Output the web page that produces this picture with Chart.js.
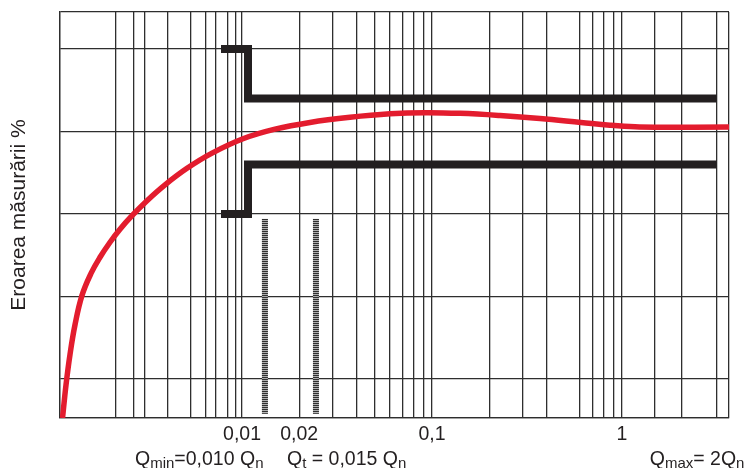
<!DOCTYPE html>
<html>
<head>
<meta charset="utf-8">
<script src="https://cdn.jsdelivr.net/npm/chart.js@4"></script>
<style>
  html, body { margin: 0; padding: 0; background: #ffffff; }
  #c { display: block; }
</style>
</head>
<body>
<canvas id="c" width="751" height="468"></canvas>
<script>
// ---- data ----
// x grid lines (flow, log scale) and y grid lines (error %)
const xGrid = [0.001095, 0.00216, 0.00269, 0.00309, 0.00404, 0.00535, 0.00641, 0.0073, 0.00841, 0.00922,
               0.01, 0.02, 0.03, 0.04, 0.05, 0.06, 0.07, 0.08, 0.09, 0.1,
               0.2, 0.3, 0.4, 0.6, 0.7, 0.8, 0.9, 1, 1.49, 2.07, 3.16, 3.657];
const yGrid = [-17.36, -15, -10, -5, 0, 5, 7.24];
const xLabelValues = [0.01, 0.02, 0.1, 1];
const xLabelTexts = ['0,01', '0,02', '0,1', '1'];

// measured error curve
const curveX = [0.001136, 0.001185, 0.001244, 0.001321, 0.001438, 0.001604, 0.001789, 0.00202, 0.002279,
                0.002637, 0.003162, 0.003933, 0.005135, 0.006952, 0.01012, 0.01492, 0.02279, 0.03701,
                0.06011, 0.09187, 0.1404, 0.2279, 0.3701, 0.6084, 0.8647, 1.171, 1.585, 3.657];
const curveY = [-17.36, -15.35, -13.50, -11.72, -9.93, -8.60, -7.62, -6.71, -5.92,
                -5.10, -4.19, -3.23, -2.23, -1.31, -0.44, 0.14, 0.55, 0.86,
                1.07, 1.14, 1.10, 0.97, 0.79, 0.55, 0.38, 0.28, 0.26, 0.27];

// maximum permissible error envelope
const envX = [0.00775, 0.01075, 0.01075, 3.15];
const envUpper = [5, 5, 2, 2];
const envLower = [-5, -5, -2, -2];

// hatched markers (Qmin, Qt)
const markerQmin = 0.0132;
const markerQt = 0.0245;
const markerY = [-5.3, -17.1];

// bottom annotations: segments [text, isSubscript], anchored at an x value
const qLabels = [
  [['Q', false], ['min', true], ['=0,010 Q', false], ['n', true]],
  [['Q', false], ['t', true], [' = 0,015 Q', false], ['n', true]],
  [['Q', false], ['max', true], ['= 2Q', false], ['n', true]]
];
const qAnchors = [0.002735, 0.01725, 1.40];

const yTitle = 'Eroarea măsurării %';

// ---- build ----
const FONT = '"Liberation Sans", Arial, Helvetica, sans-serif';
const INK = '#231f20';
const GRID = '#2e2e2e';

const zip = (xs, ys) => xs.map((x, i) => ({x: x, y: ys[i]}));

const bottomLabels = {
  id: 'bottomLabels',
  afterDraw(chart) {
    const ctx = chart.ctx;
    const xs = chart.scales.x;
    const base = chart.chartArea.bottom + 47;
    ctx.save();
    ctx.fillStyle = INK;
    ctx.textAlign = 'left';
    ctx.textBaseline = 'alphabetic';
    qLabels.forEach((segs, i) => {
      let x = xs.getPixelForValue(qAnchors[i]);
      segs.forEach(([t, sub]) => {
        ctx.font = (sub ? '15px ' : '19.5px ') + FONT;
        ctx.fillText(t, x, sub ? base + 2.5 : base);
        x += ctx.measureText(t).width;
      });
    });
    ctx.restore();
  }
};

const markerDatasets = [];
[markerQmin, markerQt].forEach(mx => {
  markerDatasets.push({
    data: zip([mx, mx], markerY), borderColor: '#2a2a2a', borderWidth: 6,
    borderDash: [1, 1], borderCapStyle: 'butt', pointRadius: 0, tension: 0, order: 1
  });
  markerDatasets.push({
    data: zip([mx, mx], markerY), borderColor: '#b4b4b4', borderWidth: 6,
    borderCapStyle: 'butt', pointRadius: 0, tension: 0, order: 2
  });
});

new Chart(document.getElementById('c'), {
  type: 'line',
  data: {
    datasets: [
      {
        data: zip(curveX, curveY), borderColor: '#e31c2e', borderWidth: 5.5,
        pointRadius: 0, cubicInterpolationMode: 'default', tension: 0.4, order: 0
      },
      {
        data: zip(envX, envUpper), borderColor: INK, borderWidth: 8,
        borderJoinStyle: 'miter', borderCapStyle: 'butt', pointRadius: 0, tension: 0, order: 0
      },
      {
        data: zip(envX, envLower), borderColor: INK, borderWidth: 8,
        borderJoinStyle: 'miter', borderCapStyle: 'butt', pointRadius: 0, tension: 0, order: 0
      },
      ...markerDatasets
    ]
  },
  options: {
    responsive: false,
    animation: false,
    devicePixelRatio: 1,
    layout: { padding: { left: 0, right: 22, top: 12, bottom: 0 } },
    plugins: { legend: { display: false }, tooltip: { enabled: false }, title: { display: false } },
    scales: {
      x: {
        type: 'logarithmic',
        min: xGrid[0],
        max: xGrid[xGrid.length - 1],
        afterBuildTicks: (scale) => { scale.ticks = xGrid.map(v => ({value: v})); },
        afterFit: (scale) => { scale.height = 50; },
        grid: { color: GRID, lineWidth: 1.3, drawTicks: false },
        border: { display: true, color: GRID, width: 1.3 },
        ticks: {
          autoSkip: false, maxRotation: 0, minRotation: 0, padding: 5,
          color: INK, font: { family: FONT, size: 19.5 },
          callback: (value) => {
            const i = xLabelValues.findIndex(v => Math.abs(v - value) / v < 1e-6);
            return i >= 0 ? xLabelTexts[i] : '';
          }
        }
      },
      y: {
        type: 'linear',
        min: yGrid[0],
        max: yGrid[yGrid.length - 1],
        afterBuildTicks: (scale) => { scale.ticks = yGrid.map(v => ({value: v})); },
        afterFit: (scale) => { scale.width = 59.5; },
        grid: { color: GRID, lineWidth: 1.3, drawTicks: false },
        border: { display: true, color: GRID, width: 1.3 },
        ticks: { display: false },
        title: {
          display: true, text: yTitle, color: INK,
          font: { family: FONT, size: 21, weight: 'normal' },
          padding: { top: 7, bottom: 0 }
        }
      }
    }
  },
  plugins: [bottomLabels]
});
</script>
</body>
</html>
